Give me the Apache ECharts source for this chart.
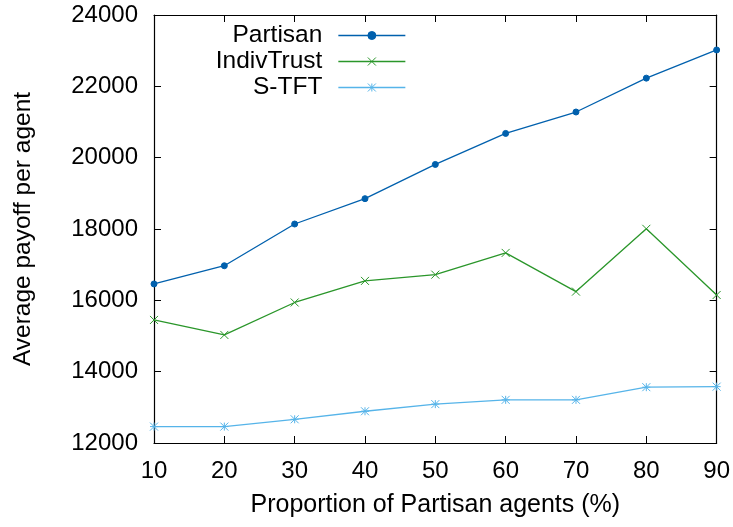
<!DOCTYPE html>
<html>
<head>
<meta charset="utf-8">
<script src="https://cdn.jsdelivr.net/npm/echarts@6/dist/echarts.min.js"></script>
<style>
html,body{margin:0;padding:0;background:#fff;}
#chart{width:733px;height:527px;}
</style>
</head>
<body>
<div id="chart"></div>
<script>
// ---- data ----
const proportions = [10, 20, 30, 40, 50, 60, 70, 80, 90];
const partisan   = [16460, 16970, 18140, 18850, 19810, 20680, 21280, 22230, 23020];
const indivTrust = [15450, 15030, 15940, 16545, 16720, 17330, 16245, 18005, 16150];
const sTFT       = [12460, 12460, 12665, 12890, 13090, 13210, 13210, 13565, 13580];
const seriesNames = ['Partisan', 'IndivTrust', 'S-TFT'];
const yTicks = { min: 12000, max: 24000, step: 2000 };
const xTicks = { min: 10, max: 90, step: 10 };

const FONT = '"Liberation Sans", Arial, Helvetica, sans-serif';
const colors = ['#0060ad', '#2a962a', '#56b4e9'];
const symbols = [
  'circle',
  'path://M0,0L10,10M10,0L0,10',
  'path://M0,0L10,10M10,0L0,10M5,0L5,10M0,5L10,5'
];
const symbolSizes = [6, 8, 8];
const seriesData = [partisan, indivTrust, sTFT];

const chart = echarts.init(document.getElementById('chart'), null, { renderer: 'canvas' });

const axisCommon = {
  axisLine: { show: true, lineStyle: { color: '#000', width: 1.2 } },
  axisTick: { show: true, inside: true, length: 7, lineStyle: { color: '#000', width: 1 } },
  splitLine: { show: false },
};

const series = seriesNames.map((name, i) => ({
  name: name,
  type: 'line',
  data: proportions.map((x, j) => [x, seriesData[i][j]]),
  symbol: symbols[i],
  symbolSize: symbolSizes[i],
  showSymbol: true,
  clip: false,
  lineStyle: { color: colors[i], width: 1.3 },
  itemStyle: { color: colors[i], borderColor: colors[i], borderWidth: 1 },
  emphasis: { disabled: true },
  animation: false
}));

const legendTops = [23, 49, 75];
const legends = seriesNames.map((name, i) => ({
  data: [name],
  orient: 'horizontal',
  align: 'right',
  right: 327,
  top: legendTops[i],
  padding: 0,
  itemWidth: 67,
  itemHeight: 10,
  selectedMode: false,
  textStyle: { fontFamily: FONT, fontSize: 24.5, color: '#000', padding: [0, 11, 0, 0] },
  itemStyle: { borderWidth: 1 },
  lineStyle: { width: 1.3 }
}));

const plainNum = v => String(v);

const option = {
  backgroundColor: '#fff',
  animation: false,
  grid: { left: 154, right: 15, top: 15, bottom: 84, containLabel: false },
  legend: legends,
  xAxis: [
    Object.assign({}, axisCommon, {
      type: 'value', position: 'bottom',
      min: xTicks.min, max: xTicks.max, interval: xTicks.step,
      name: 'Proportion of Partisan agents (%)',
      nameLocation: 'middle', nameGap: 50,
      nameTextStyle: { fontFamily: FONT, fontSize: 25, color: '#000' },
      axisLabel: { fontFamily: FONT, fontSize: 24, color: '#000', margin: 16, formatter: plainNum }
    }),
    Object.assign({}, axisCommon, {
      type: 'value', position: 'top',
      min: xTicks.min, max: xTicks.max, interval: xTicks.step,
      axisLabel: { show: false }
    })
  ],
  yAxis: [
    Object.assign({}, axisCommon, {
      type: 'value', position: 'left',
      min: yTicks.min, max: yTicks.max, interval: yTicks.step,
      name: 'Average payoff per agent',
      nameLocation: 'middle', nameGap: 118, nameRotate: 90,
      nameTextStyle: { fontFamily: FONT, fontSize: 24.5, color: '#000' },
      axisLabel: { fontFamily: FONT, fontSize: 24, color: '#000', margin: 16, formatter: plainNum }
    }),
    Object.assign({}, axisCommon, {
      type: 'value', position: 'right',
      min: yTicks.min, max: yTicks.max, interval: yTicks.step,
      axisLabel: { show: false }
    })
  ],
  series: series
};
chart.setOption(option);
</script>
</body>
</html>
